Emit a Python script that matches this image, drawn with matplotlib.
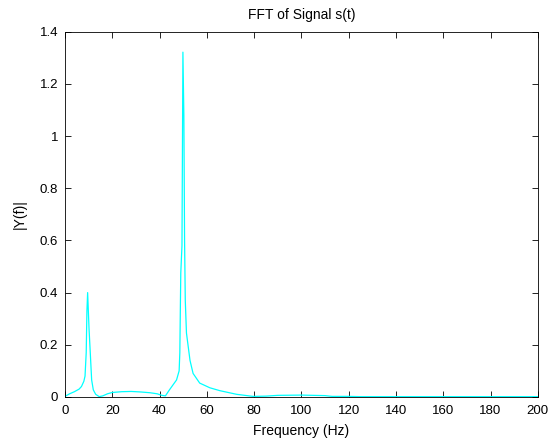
import numpy as np
import matplotlib.pyplot as plt

# =====================================================
# DATA
# =====================================================

freq = [0.0, 2.0, 4.0, 6.0, 7.0, 8.0, 8.5, 9.0, 9.3, 9.6, 9.9, 10.2, 10.6,
        11.3, 12.0, 13.0, 14.5, 16.0, 18.0, 20.0, 24.0, 28.0, 32.0, 36.0,
        39.0, 41.0, 42.5, 44.2, 47.2, 48.3, 48.6, 48.8, 49.0, 49.5, 49.9,
        50.3, 50.6, 50.9, 51.4, 52.9, 54.2, 57.0, 61.3, 65.5, 72.6, 79.6,
        85.0, 90.0, 100.0, 110.0, 113.0, 120.0, 125.0, 140.0, 160.0, 180.0,
        200.0]

mag = [0.002, 0.012, 0.02, 0.03, 0.04, 0.06, 0.08, 0.17, 0.33, 0.40, 0.33,
       0.26, 0.19, 0.065, 0.027, 0.01, 0.001, 0.004, 0.012, 0.017, 0.02,
       0.021, 0.019, 0.016, 0.012, 0.006, 0.004, 0.027, 0.065, 0.10, 0.17,
       0.33, 0.475, 0.58, 1.322, 1.08, 0.60, 0.37, 0.245, 0.14, 0.09,
       0.053, 0.035, 0.024, 0.010, 0.002, 0.003, 0.006, 0.007, 0.005,
       0.002, 0.002, 0.001, 0.001, 0.001, 0.001, 0.001]

xticks = np.arange(0, 201, 20)
yticks = [0, 0.2, 0.4, 0.6, 0.8, 1.0, 1.2, 1.4]
ytick_labels = ["0", "0.2", "0.4", "0.6", "0.8", "1", "1.2", "1.4"]

# =====================================================
# PLOT
# =====================================================

plt.rcParams['font.family'] = ['Liberation Sans', 'DejaVu Sans']

fig = plt.figure(figsize=(5.55, 4.42), dpi=100)
ax = fig.add_axes([0.117, 0.102, 0.852, 0.826])

ax.plot(freq, mag, color='#00FFFF', linewidth=0.9)

ax.set_xlim(0, 200)
ax.set_ylim(0, 1.4)
ax.set_xticks(xticks)
ax.set_xticklabels([str(t) for t in xticks])
ax.set_yticks(yticks)
ax.set_yticklabels(ytick_labels)

ax.tick_params(direction='in', top=True, right=True, length=4,
               width=0.6, labelsize=9.5)
ax.tick_params(axis='x', pad=6)
ax.tick_params(axis='y', pad=5)
for s in ax.spines.values():
    s.set_linewidth(0.6)

ax.set_title("FFT of Signal s(t)", fontsize=10, pad=9)
ax.set_xlabel("Frequency (Hz)", fontsize=10, labelpad=5)
ax.set_ylabel("|Y(f)|", fontsize=10, labelpad=9)

fig.savefig("out.png", dpi=100)
